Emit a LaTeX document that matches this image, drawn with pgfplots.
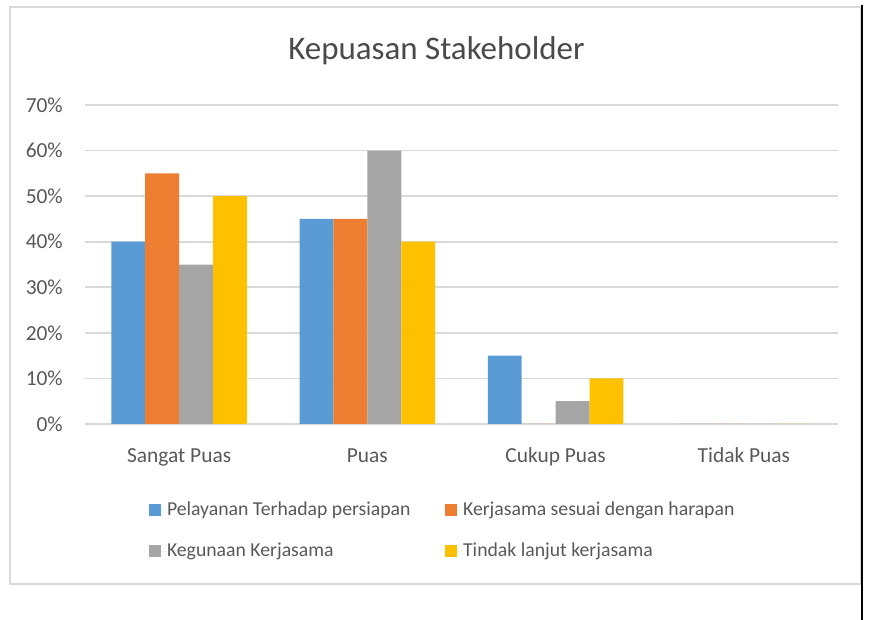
\documentclass[border=0pt]{standalone}
\usepackage{pgfplots}
\pgfplotsset{compat=1.18}
\usepackage{fontspec}
\setmainfont{Carlito}
\definecolor{cblue}{HTML}{5B9BD5}
\definecolor{corange}{HTML}{ED7D31}
\definecolor{cgray}{HTML}{A5A5A5}
\definecolor{cyellow}{HTML}{FFC000}
\definecolor{gridc}{HTML}{D9D9D9}
\definecolor{txt}{HTML}{595959}
\definecolor{ttl}{HTML}{4A4A4A}
\begin{document}
\begin{tikzpicture}
\useasboundingbox (0bp,0bp) rectangle (869bp,620bp);
\fill[white] (0bp,0bp) rectangle (869bp,620bp);
\draw[gridc, line width=2bp] (10bp,613bp) rectangle (861bp,36bp);
\draw[black, line width=1.7bp] (862bp,614.5bp) -- (862bp,0bp);
\begin{axis}[
  at={(85bp,196bp)}, anchor=south west,
  scale only axis, width=753bp, height=319bp,
  xmin=-0.5, xmax=3.5, ymin=0, ymax=70,
  enlargelimits=false,
  ybar=0pt, bar width=0.18,
  xtick={0,1,2,3},
  xticklabels={Sangat Puas, Puas, Cukup Puas, Tidak Puas},
  ytick={0,10,20,30,40,50,60,70},
  /pgf/number format/assume math mode=true,
  yticklabel={\pgfmathprintnumber{\tick}\%},
  axis line style={draw=none},
  major tick length=0pt,
  ymajorgrids, grid style={draw=gridc, line width=1.8bp},
  tick label style={font=\fontsize{21.5}{25}\selectfont, text=txt},
  yticklabel style={anchor=east, inner sep=0pt, xshift=-22bp},
  xticklabel style={anchor=base, inner sep=0pt, yshift=-39bp},
  legend columns=2,
  legend cell align=left,
  legend style={draw=none, fill=none, inner sep=0pt, outer sep=0pt,
    at={(rel axis cs:0.085,-0.2414)}, anchor=north west,
    font=\fontsize{19.8}{23}\selectfont, text=txt,
    /tikz/every even column/.append style={column sep=34.6bp},
    row sep=23bp,
    nodes={inner sep=0pt, text height=14bp, text depth=4bp}},
  legend image code/.code={\fill[#1] (0bp,-6bp) rectangle (12bp,6bp); \path (0bp,0bp) -- (18bp,0bp);},
]
\addplot[fill=cblue, draw=none] coordinates {(0,40) (1,45) (2,15) (3,0)};
\addplot[fill=corange, draw=none] coordinates {(0,55) (1,45) (2,0) (3,0)};
\addplot[fill=cgray, draw=none] coordinates {(0,35) (1,60) (2,5) (3,0)};
\addplot[fill=cyellow, draw=none] coordinates {(0,50) (1,40) (2,10) (3,0)};
\legend{Pelayanan Terhadap persiapan, Kerjasama sesuai dengan harapan, Kegunaan Kerjasama, Tindak lanjut kerjasama}
\end{axis}
\node[anchor=base, inner sep=0pt, text=ttl, font=\fontsize{33.1}{38}\selectfont] at (436.5bp,560bp) {Kepuasan Stakeholder};
\end{tikzpicture}
\end{document}
